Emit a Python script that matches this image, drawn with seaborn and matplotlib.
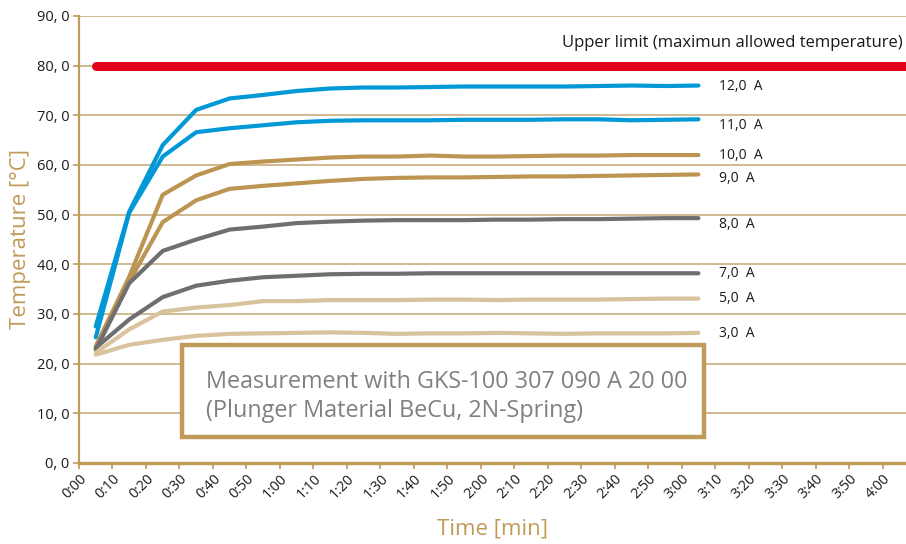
import numpy as np
import pandas as pd
import matplotlib
matplotlib.use("Agg")
import matplotlib.pyplot as plt
import matplotlib.patches as mpatches
from matplotlib.ticker import FuncFormatter, MultipleLocator
import seaborn as sns

sns.set_theme(style="white")
plt.rcParams['font.family'] = ['Open Sans', 'DejaVu Sans']

# time in seconds after start
time_s = [5, 15, 25, 35, 45, 55, 65, 75, 85, 95, 105, 115, 125, 135, 145, 155, 165, 175, 185]

temp_12a = [27.5, 50.6, 64.0, 71.1, 73.4, 74.1, 74.9, 75.4, 75.6, 75.6, 75.7, 75.8, 75.8, 75.8, 75.8, 75.9, 76.0, 75.9, 76.0]
temp_11a = [25.3, 50.4, 61.7, 66.6, 67.4, 68.0, 68.6, 68.9, 69.0, 69.0, 69.0, 69.1, 69.1, 69.1, 69.2, 69.2, 69.0, 69.1, 69.2]
temp_10a = [23.5, 37.5, 54.0, 57.9, 60.2, 60.7, 61.1, 61.5, 61.7, 61.7, 61.9, 61.7, 61.7, 61.8, 61.9, 61.9, 62.0, 62.0, 62.0]
temp_9a = [23.0, 36.5, 48.5, 52.9, 55.2, 55.8, 56.3, 56.8, 57.2, 57.4, 57.5, 57.5, 57.6, 57.7, 57.7, 57.8, 57.9, 58.0, 58.1]
temp_8a = [22.8, 36.2, 42.7, 45.0, 47.0, 47.6, 48.3, 48.6, 48.8, 48.9, 48.9, 48.9, 49.0, 49.0, 49.1, 49.1, 49.2, 49.3, 49.3]
temp_7a = [23.2, 28.9, 33.4, 35.7, 36.7, 37.4, 37.7, 38.0, 38.1, 38.1, 38.2, 38.2, 38.2, 38.2, 38.2, 38.2, 38.2, 38.2, 38.2]
temp_5a = [22.2, 26.9, 30.5, 31.3, 31.8, 32.6, 32.6, 32.8, 32.8, 32.8, 32.9, 32.9, 32.8, 32.9, 32.9, 32.9, 33.0, 33.1, 33.1]
temp_3a = [21.8, 23.8, 24.8, 25.6, 26.0, 26.1, 26.2, 26.3, 26.2, 26.0, 26.1, 26.1, 26.2, 26.1, 26.0, 26.1, 26.1, 26.1, 26.2]

currents = ["12,0  A", "11,0  A", "10,0  A", "9,0  A", "8,0  A", "7,0  A", "5,0  A", "3,0  A"]
series = [temp_12a, temp_11a, temp_10a, temp_9a, temp_8a, temp_7a, temp_5a, temp_3a]
# where each current label sits (value axis)
label_y = [75.9, 68.0, 62.0, 57.2, 48.1, 38.1, 33.2, 26.0]

upper_limit = 80.0
limit_start = 5

BLUE = '#0098d6'
GOLD = '#bd9552'
GREY = '#6f6f71'
TAN = '#d8c39c'
RED = '#e2001a'
SPINE = '#c09a58'
GRID = '#cdb489'

palette = {
    "12,0  A": BLUE, "11,0  A": BLUE,
    "10,0  A": GOLD, "9,0  A": GOLD,
    "8,0  A": GREY, "7,0  A": GREY,
    "5,0  A": TAN, "3,0  A": TAN,
}

df = pd.DataFrame({
    'time': np.tile(time_s, len(currents)),
    'temp': np.concatenate(series),
    'current': np.repeat(currents, len(time_s)),
})

fig = plt.figure(figsize=(9.06, 5.44), dpi=100)
ax = fig.add_axes([0.0872, 0.1489, 0.9128, 0.8217])

ax.set_xlim(0, 247)
ax.set_ylim(0, 90)

# grid
for v in range(10, 100, 10):
    ax.axhline(v, color=GRID, lw=1.3, zorder=0)

sns.lineplot(data=df, x='time', y='temp', hue='current', palette=palette,
             lw=3.0, legend=False, ax=ax, zorder=3)

ax.plot([limit_start, 260], [upper_limit, upper_limit], color=RED, lw=6.5,
        solid_capstyle='round', zorder=4)
ax.text(246, 84.6, "Upper limit (maximun allowed temperature)", ha='right', va='center',
        fontsize=12, color='#1a1a1a')

for name, yv in zip(currents, label_y):
    ax.text(191, yv, name, ha='left', va='center', fontsize=10, color='#1a1a1a')

# info box
box = mpatches.Rectangle((30.8, 5.2), 156.0, 18.6, facecolor='white', edgecolor=SPINE,
                         lw=3.2, zorder=5)
ax.add_patch(box)
ax.text(38, 16.3, "Measurement with GKS-100 307 090 A 20 00", fontsize=16.8,
        color='#808080', va='center', ha='left', zorder=6)
ax.text(38, 10.4, "(Plunger Material BeCu, 2N-Spring)", fontsize=16.8,
        color='#808080', va='center', ha='left', zorder=6)

# axes styling
for s in ['top', 'right']:
    ax.spines[s].set_visible(False)
ax.spines['left'].set_color(SPINE)
ax.spines['left'].set_linewidth(1.6)
ax.spines['bottom'].set_color(SPINE)
ax.spines['bottom'].set_linewidth(2.4)

ax.yaxis.set_major_locator(MultipleLocator(10))
ax.xaxis.set_major_formatter(FuncFormatter(lambda v, p: f"{int(v)//60}:{int(v)%60:02d}"))
ax.yaxis.set_major_formatter(FuncFormatter(lambda v, p: f"{int(v)}, 0"))
ax.set_xticks(np.arange(0, 250, 10))
ax.tick_params(axis='both', direction='out', length=4, width=1.2, color=SPINE,
               labelcolor='#1a1a1a', bottom=True, left=True)
ax.tick_params(axis='y', labelsize=10.5, pad=3)
ax.tick_params(axis='x', labelsize=10.3, pad=2)
for lab in ax.get_xticklabels():
    lab.set_rotation(45)
    lab.set_ha('right')
    lab.set_va('top')
    lab.set_rotation_mode('anchor')

ax.set_xlabel("Time [min]", fontsize=16, color=SPINE, labelpad=12)
ax.set_ylabel("Temperature [°C]", fontsize=16, color=SPINE, labelpad=4)

fig.savefig("out.png", dpi=100)
